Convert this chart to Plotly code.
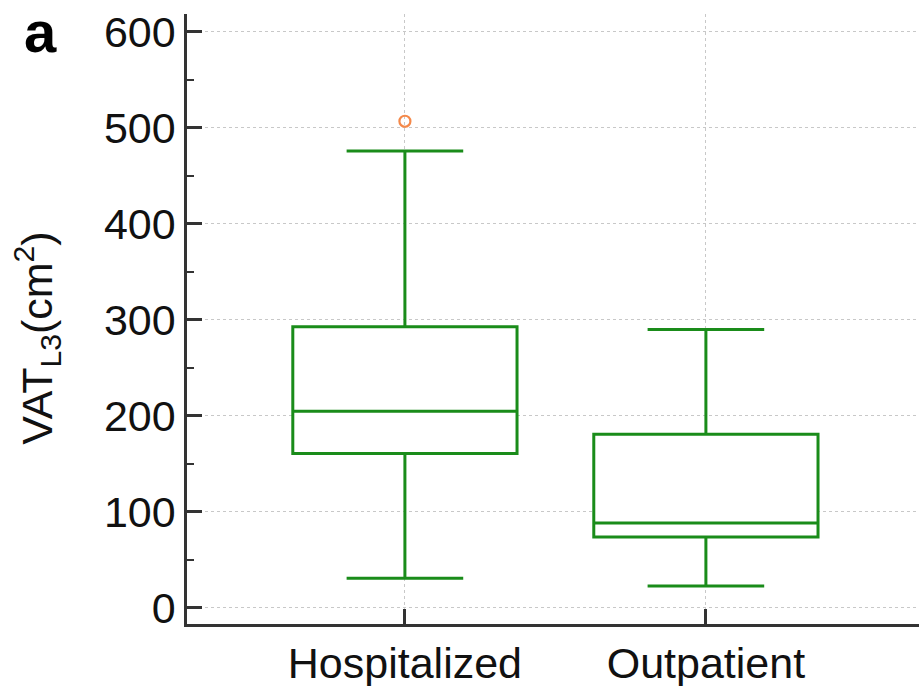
import plotly.graph_objects as go

categories = ["Hospitalized", "Outpatient"]
lower_whisker = [31, 23]
q1_values = [161, 74]
median_values = [205, 88.5]
q3_values = [293, 181]
upper_whisker = [476, 290]
outlier_cats = ["Hospitalized"]
outlier_values = [507]

y_ticks = [0, 100, 200, 300, 400, 500, 600]

GREEN = "#1a8c1a"
AXIS = "#333333"
FONT = "Liberation Sans, Arial, sans-serif"

fig = go.Figure()
fig.add_trace(go.Box(
    x=categories,
    q1=q1_values, median=median_values, q3=q3_values,
    lowerfence=lower_whisker, upperfence=upper_whisker,
    width=0.745, whiskerwidth=0.52,
    line=dict(color=GREEN, width=3),
    fillcolor="white",
    boxpoints=False,
    showlegend=False,
    hoverinfo="skip",
))
fig.add_trace(go.Scatter(
    x=outlier_cats, y=outlier_values, mode="markers",
    marker=dict(symbol="circle-open", size=11, color="#f5894a", line=dict(width=2.2, color="#f5894a")),
    showlegend=False,
))

fig.update_layout(
    width=919, height=686,
    margin=dict(l=187, r=0, t=14, b=62),
    paper_bgcolor="white", plot_bgcolor="white",
    font=dict(family=FONT, size=43, color="#111111"),
    xaxis=dict(
        range=[-0.724, 1.708],
        automargin=False,
        showline=True, linecolor=AXIS, linewidth=2.5,
        ticks="inside", ticklen=15, tickwidth=2.5, tickcolor=AXIS,
        showgrid=True, gridcolor="#c8c8c8", gridwidth=1, griddash="dot",
        tickfont=dict(size=43, family=FONT, color="#111111"),
        ticklabelstandoff=0,
        zeroline=False,
    ),
    yaxis=dict(
        range=[-16.7, 618.7],
        automargin=False,
        tickvals=y_ticks,
        showline=True, linecolor=AXIS, linewidth=2.5,
        ticks="inside", ticklen=15, tickwidth=2.5, tickcolor=AXIS,
        minor=dict(dtick=50, ticks="inside", ticklen=7, tickwidth=1.5, tickcolor=AXIS, showgrid=False),
        showgrid=True, gridcolor="#c8c8c8", gridwidth=1, griddash="dot",
        tickfont=dict(size=43, family=FONT, color="#111111"),
        ticklabelstandoff=0,
        zeroline=False,
    ),
    annotations=[
        dict(text="VAT<sub>L3</sub>(cm<sup>2</sup>)", textangle=-90,
             xref="paper", yref="paper", x=-0.205, y=0.469, xanchor="center", yanchor="middle",
             showarrow=False, font=dict(size=43, family=FONT, color="#111111")),
        dict(text="<b>a</b>", xref="paper", yref="paper", x=-0.1995, y=0.972,
             xanchor="center", yanchor="middle", showarrow=False,
             font=dict(size=58, family=FONT, color="#000000")),
    ],
)

fig.write_html(
    "out.html",
    config={"displayModeBar": False},
    post_script="document.body.style.margin='0';document.body.style.overflow='hidden';",
)
